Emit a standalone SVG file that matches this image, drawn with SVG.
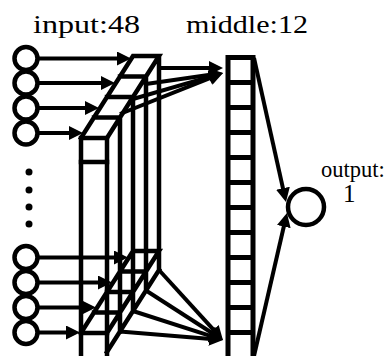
<svg xmlns="http://www.w3.org/2000/svg" width="387" height="356" viewBox="0 0 387 356">
<style>
.t{font-family:"Liberation Serif","Times New Roman",serif;font-size:25px;fill:#000}
.n{fill:#fff;stroke:#000;stroke-width:4.5}
.e{fill:none;stroke:#000;stroke-width:4.5;stroke-linecap:square}
.c{fill:none;stroke:#000;stroke-width:4;marker-end:url(#ah)}
.m{fill:#fff;stroke:#000;stroke-width:5}
.d{fill:#000}
</style>
<defs>
<marker id="ah" markerUnits="userSpaceOnUse" markerWidth="14" markerHeight="14" viewBox="0 0 14 14" refX="8" refY="7" orient="auto">
<path d="M0,0 L14,7 L0,14 z" fill="#000"/>
</marker>
</defs>
<rect width="387" height="356" fill="#fff"/>
<g id="labels">
<text class="t" x="33" y="33" textLength="107" lengthAdjust="spacingAndGlyphs">input:48</text>
<text class="t" x="186" y="33" textLength="122" lengthAdjust="spacingAndGlyphs">middle:12</text>
<text class="t" x="321" y="177" style="font-size:22.5px">output:</text>
<text class="t" x="343" y="202">1</text>
</g>
<g id="input-block">
<rect x="81" y="138" width="26" height="230" fill="none" stroke="#000" stroke-width="4.5"/>
<path class="e" d="M81,162 H107 M81,138 L133,56 H159 L107,138 M94,117.5 H120 M107,97 H133 M120,76.5 H146
M120,117.5 V331.5 M133,97 V311 M146,76.5 V290.5 M159,56 V270
M81,333 L133,251 H159 L107,333 M81,333 H107 M94,312.5 H120 M107,292 H133 M120,271.5 H146 M107,352 L159,270"/>
</g>
<g id="input-nodes">
<g id="in1"><circle class="n" cx="26" cy="58.5" r="11.5"/></g>
<g id="in2"><circle class="n" cx="26" cy="83" r="11.5"/></g>
<g id="in3"><circle class="n" cx="26" cy="108" r="11.5"/></g>
<g id="in4"><circle class="n" cx="26" cy="133" r="11.5"/></g>
<g id="in45"><circle class="n" cx="26" cy="257.5" r="11.5"/></g>
<g id="in46"><circle class="n" cx="26" cy="282.5" r="11.5"/></g>
<g id="in47"><circle class="n" cx="26" cy="307.5" r="11.5"/></g>
<g id="in48"><circle class="n" cx="26" cy="332.5" r="11.5"/></g>
<g id="ellipsis">
<circle class="d" cx="29" cy="172" r="3.5"/>
<circle class="d" cx="29" cy="190" r="3.5"/>
<circle class="d" cx="29" cy="207" r="3.5"/>
<circle class="d" cx="29" cy="224" r="3.5"/>
</g>
</g>
<g id="middle-layer">
<rect class="m" x="228" y="57.5" width="25" height="310"/>
<path fill="none" stroke="#000" stroke-width="5" d="M228,82.5 H253 M228,107.5 H253 M228,132.5 H253 M228,157.5 H253 M228,182.5 H253 M228,207.5 H253 M228,232.5 H253 M228,257.5 H253 M228,282.5 H253 M228,307.5 H253 M228,332.5 H253"/>
</g>
<g id="output-node">
<circle class="n" cx="306" cy="207" r="18"/>
</g>
<g id="connectors">
<line class="c" x1="38" y1="58.5" x2="125" y2="58.5"/>
<line class="c" x1="38" y1="83" x2="109" y2="83"/>
<line class="c" x1="38" y1="108" x2="93" y2="108"/>
<line class="c" x1="38" y1="133" x2="77" y2="133"/>
<line class="c" x1="38" y1="257.5" x2="122" y2="257.5"/>
<line class="c" x1="38" y1="282.5" x2="106" y2="282.5"/>
<line class="c" x1="38" y1="307.5" x2="90" y2="307.5"/>
<line class="c" x1="38" y1="332.5" x2="74" y2="332.5"/>
<line class="c" x1="159" y1="68" x2="217" y2="68"/>
<line class="c" x1="146" y1="84" x2="217.1" y2="73.8"/>
<line class="c" x1="133" y1="99" x2="217.2" y2="74.7"/>
<line class="c" x1="120" y1="114" x2="217.4" y2="75.2"/>
<line class="c" x1="159" y1="270" x2="218.9" y2="335.6"/>
<line class="c" x1="146" y1="290.5" x2="217.9" y2="336.8"/>
<line class="c" x1="133" y1="311" x2="217.3" y2="338.2"/>
<line class="c" x1="120" y1="331.5" x2="217" y2="339.5"/>
<line class="c" x1="254" y1="58" x2="284.7" y2="196.1"/>
<line class="c" x1="254" y1="356" x2="285.6" y2="218.8"/>
</g>
</svg>
